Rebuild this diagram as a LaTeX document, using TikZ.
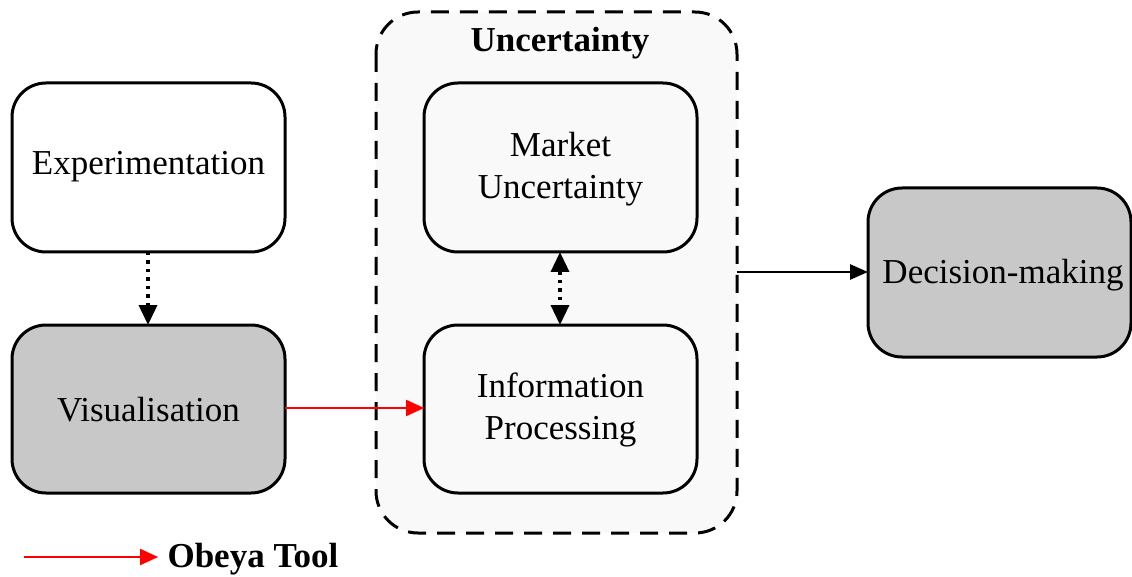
\documentclass[tikz,border=0pt]{standalone}
\usepackage{fontspec}
\setmainfont{Liberation Serif}
\usetikzlibrary{arrows.meta}
\definecolor{boxgray}{HTML}{C8C8C8}
\definecolor{pale}{HTML}{F9F9F9}
\tikzset{
  box/.style={draw=black, line width=3pt, rounded corners=34pt},
  lbl/.style={font=\fontsize{35}{42}\selectfont, align=center},
  dotarrow/.style={line width=3.6pt, dash pattern=on 3.5pt off 5pt},
}
\begin{document}
\begin{tikzpicture}[x=1pt,y=-1pt]
\useasboundingbox (0,0) rectangle (1132,577);
% container
\draw[line width=3pt, dash pattern=on 18pt off 11pt, rounded corners=42pt, fill=pale] (376,12) rectangle (737,533);
\node[font=\fontsize{35}{42}\selectfont\bfseries] (title) at (560,43) {Uncertainty};
\coordinate (cR) at (737,272);
% boxes
\draw[box, fill=white] (12,83) rectangle (285,252);
\node[lbl] (exp) at (148.5,167) {Experimentation};
\draw[box, fill=boxgray] (12,325) rectangle (285,493);
\node[lbl] (vis) at (148.5,410) {Visualisation};
\draw[box, fill=pale] (424,83) rectangle (697,252);
\node[lbl] (mkt) at (560.5,169) {Market\\Uncertainty};
\draw[box, fill=pale] (424,325) rectangle (697,493);
\node[lbl] (inf) at (560.5,410) {Information\\Processing};
\draw[box, fill=boxgray] (868,188) rectangle (1131,357);
\node[lbl] (dec) at (1003,275) {Decision-making};
% anchor coordinates
\coordinate (expB) at (148,252);
\coordinate (visT) at (148,325);
\coordinate (visR) at (285,408);
\coordinate (infL) at (424,408);
\coordinate (mktB) at (560,252);
\coordinate (infT) at (560,325);
\coordinate (decL) at (868,272);
% connectors
\draw[dotarrow, -{Triangle[length=20pt,width=18pt]}] (expB) -- (visT);
\draw[dotarrow, {Triangle[length=20pt,width=18pt]}-{Triangle[length=20pt,width=18pt]}] (mktB) -- (infT);
\draw[red, line width=2.2pt, -{Triangle[length=18pt,width=16pt]}] (visR) -- (infL);
\draw[black, line width=2.6pt, -{Triangle[length=18pt,width=15pt]}] (cR) -- (decL);
% legend
\coordinate (lg1) at (24,557);
\coordinate (lg2) at (158,557);
\draw[red, line width=2.2pt, -{Triangle[length=18pt,width=16pt]}] (lg1) -- (lg2);
\node[font=\fontsize{35}{42}\selectfont\bfseries, anchor=west] (obeya) at (164,559) {Obeya Tool};
\end{tikzpicture}
\end{document}
